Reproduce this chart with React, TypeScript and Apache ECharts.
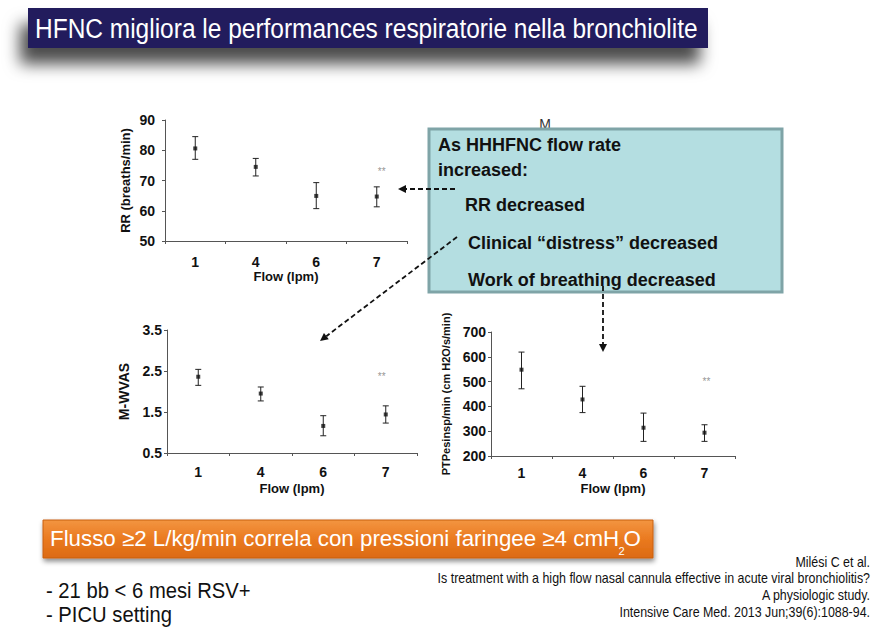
import React, { useEffect, useRef } from 'react';
import * as echarts from 'echarts';

// ---- data ----
const flowCategories = ['1', '4', '6', '7'];

const rrMean = [80.6, 74.5, 64.9, 64.7];
const rrLow = [77.0, 71.5, 60.7, 61.3];
const rrHigh = [84.5, 77.3, 69.3, 67.9];
const rrSig = ['-', '-', '-', 72.9];

const mwvasMean = [2.36, 1.95, 1.16, 1.44];
const mwvasLow = [2.15, 1.77, 0.92, 1.23];
const mwvasHigh = [2.54, 2.11, 1.41, 1.65];
const mwvasSig = ['-', '-', '-', 2.36];

const ptpMean = [548, 428, 314, 294];
const ptpLow = [471, 375, 259, 259];
const ptpHigh = [619, 481, 373, 326];
const ptpSig = ['-', '-', '-', 501];

const titleText = 'HFNC migliora le performances respiratorie nella bronchiolite';
const boxLines = ['As HHHFNC flow rate', 'increased:', 'RR decreased', 'Clinical \u201cdistress\u201d decreased', 'Work of breathing decreased'];
const orangeMain = 'Flusso \u22652 L/kg/min correla con pressioni faringee \u22654 cmH';
const bulletLines = ['- 21 bb < 6 mesi RSV+', '- PICU setting'];
const refLines = [
  'Mil\u00e9si C et al.',
  'Is treatment with a high flow nasal cannula effective in acute viral bronchiolitis?',
  'A physiologic study.',
  'Intensive Care Med. 2013 Jun;39(6):1088-94.',
];

const FONT = '"Liberation Sans", Arial, Helvetica, sans-serif';

function measure(text: string, font: string): number {
  const ctx = document.createElement('canvas').getContext('2d');
  if (!ctx) return text.length * 10;
  ctx.font = font;
  return ctx.measureText(text).width;
}

function arrow(x1: number, y1: number, x2: number, y2: number, z: number) {
  const dx = x2 - x1, dy = y2 - y1;
  const len = Math.sqrt(dx * dx + dy * dy);
  const ux = dx / len, uy = dy / len;
  const hl = 8, hw = 4;
  const bx = x2 - ux * hl, by = y2 - uy * hl;
  return [
    {
      type: 'line', z, silent: true,
      shape: { x1, y1, x2: bx, y2: by },
      style: { stroke: '#111', lineWidth: 1.8, lineDash: [5, 3] },
    },
    {
      type: 'polygon', z, silent: true,
      shape: { points: [[x2, y2], [bx - uy * hw, by + ux * hw], [bx + uy * hw, by - ux * hw]] },
      style: { fill: '#111' },
    },
  ];
}

export default function App() {
  const ref = useRef<HTMLDivElement>(null);

  useEffect(() => {
    if (!ref.current) return;
    const chart = echarts.init(ref.current, null, { renderer: 'svg' });

    const axisColor = '#555';
    const labelStyle = { color: '#111', fontWeight: 'bold' as const, fontSize: 14, fontFamily: FONT };
    const nameStyle = { color: '#111', fontWeight: 'bold' as const, fontSize: 13, fontFamily: FONT };

    const makeX = (gridIndex: number, margin: number, nameGap: number) => ({
      type: 'category', gridIndex, data: flowCategories, boundaryGap: true,
      axisLine: { lineStyle: { color: axisColor, width: 1 } },
      axisTick: { show: true, length: 3, lineStyle: { color: axisColor } },
      axisLabel: { ...labelStyle, margin },
      splitLine: { show: false },
      name: 'Flow (lpm)', nameLocation: 'middle', nameGap, nameTextStyle: nameStyle,
    });
    const makeY = (gridIndex: number, min: number, max: number, interval: number, name: string, nameGap: number, margin: number, nameSize: number) => ({
      type: 'value', gridIndex, min, max, interval,
      axisLine: { show: true, lineStyle: { color: axisColor, width: 1 } },
      axisTick: { show: true, length: 3, lineStyle: { color: axisColor } },
      axisLabel: { ...labelStyle, margin },
      splitLine: { show: false },
      name, nameLocation: 'middle', nameGap, nameRotate: 90,
      nameTextStyle: { ...nameStyle, fontSize: nameSize },
    });

    const errorSeries = (idx: number, low: number[], high: number[]) => ({
      type: 'custom', xAxisIndex: idx, yAxisIndex: idx,
      data: low.map((l, i) => [i, l, high[i]]),
      encode: { x: 0, y: [1, 2] },
      renderItem: (params: any, api: any) => {
        const i = api.value(0);
        const pLo = api.coord([i, api.value(1)]);
        const pHi = api.coord([i, api.value(2)]);
        const cap = 3;
        const st = { stroke: '#222', lineWidth: 1 };
        return {
          type: 'group',
          children: [
            { type: 'line', shape: { x1: pLo[0], y1: pLo[1], x2: pHi[0], y2: pHi[1] }, style: st },
            { type: 'line', shape: { x1: pLo[0] - cap, y1: pLo[1], x2: pLo[0] + cap, y2: pLo[1] }, style: st },
            { type: 'line', shape: { x1: pHi[0] - cap, y1: pHi[1], x2: pHi[0] + cap, y2: pHi[1] }, style: st },
          ],
        };
      },
      z: 3,
    });
    const meanSeries = (idx: number, data: number[]) => ({
      type: 'scatter', xAxisIndex: idx, yAxisIndex: idx, data,
      symbol: 'rect', symbolSize: 4, itemStyle: { color: '#111' }, z: 4,
    });
    const sigSeries = (idx: number, data: any[], dx: number) => ({
      type: 'scatter', xAxisIndex: idx, yAxisIndex: idx, data,
      symbolSize: 1, itemStyle: { color: 'rgba(0,0,0,0)' },
      label: { show: true, position: 'inside', formatter: '**', color: '#777', fontSize: 10, fontFamily: FONT, offset: [dx, 0] },
      z: 4,
    });

    // text fitting
    const titleFont = `27px ${FONT}`;
    const titleScale = 663 / measure(titleText, titleFont);
    const orFont = `22px ${FONT}`;
    const wMain = measure(orangeMain, orFont);
    const wO = measure('O', orFont);
    const orScale = 591 / (wMain + 4 + wO);
    const refFont = `14px ${FONT}`;
    const refScale = 433 / measure(refLines[1], refFont);

    const graphic: any[] = [
      // partial "M" behind the box
      { type: 'text', x: 545, y: 124, z: 1, silent: true,
        style: { text: 'M', fontSize: 14, fontFamily: FONT, fill: '#333', align: 'center', verticalAlign: 'middle' } },
      // title
      { type: 'rect', z: 10, silent: true, shape: { x: 28, y: 8, width: 680, height: 40 },
        style: { fill: '#211f5d', shadowBlur: 16, shadowOffsetX: -8, shadowOffsetY: 16, shadowColor: 'rgba(0,0,0,0.7)' } },
      { type: 'text', z: 11, silent: true, x: 35, y: 29, scaleX: titleScale, originX: 0, originY: 0,
        style: { text: titleText, fontSize: 27, fontFamily: FONT, fill: '#ffffff', align: 'left', verticalAlign: 'middle' } },
      // teal box
      { type: 'rect', z: 10, silent: true, shape: { x: 429, y: 129, width: 353, height: 163 },
        style: { fill: '#b4dee1', stroke: '#7fa4a7', lineWidth: 3 } },
      ...boxLines.map((t, i) => ({
        type: 'text', z: 11, silent: true,
        x: [438, 438, 465, 468, 468][i], y: [145, 170, 205, 243, 280][i],
        style: { text: t, fontSize: 18, fontWeight: 'bold', fontFamily: FONT, fill: '#111', align: 'left', verticalAlign: 'middle' },
      })),
      // arrows
      ...arrow(455, 189, 398, 189, 12),
      ...arrow(457, 237, 320, 341, 12),
      ...arrow(603, 286, 603, 352, 12),
      // orange box
      { type: 'rect', z: 10, silent: true, shape: { x: 43, y: 520, width: 610, height: 38 },
        style: {
          fill: new echarts.graphic.LinearGradient(0, 0, 0, 1, [
            { offset: 0, color: '#f39541' }, { offset: 0.5, color: '#ea7a20' }, { offset: 1, color: '#dc6a12' },
          ]),
          stroke: '#c8600f', lineWidth: 1,
          shadowBlur: 5, shadowOffsetX: 1, shadowOffsetY: 3, shadowColor: 'rgba(0,0,0,0.45)',
        } },
      { type: 'group', z: 11, x: 50, y: 539, scaleX: orScale, originX: 0, originY: 0, silent: true,
        children: [
          { type: 'text', z: 11, x: 0, y: 0, style: { text: orangeMain, fontSize: 22, fontFamily: FONT, fill: '#fff', align: 'left', verticalAlign: 'middle' } },
          { type: 'text', z: 11, x: wMain - 1, y: 12, style: { text: '2', fontSize: 11, fontFamily: FONT, fill: '#fff', align: 'left', verticalAlign: 'middle' } },
          { type: 'text', z: 11, x: wMain + 4, y: 0, style: { text: 'O', fontSize: 22, fontFamily: FONT, fill: '#fff', align: 'left', verticalAlign: 'middle' } },
        ] },
      // bullets
      ...bulletLines.map((t, i) => ({
        type: 'text', z: 11, silent: true, x: 46, y: [590, 614][i], scaleX: 0.92, originX: 0, originY: 0,
        style: { text: t, fontSize: 22, fontFamily: FONT, fill: '#111', align: 'left', verticalAlign: 'middle' },
      })),
      // references
      ...refLines.map((t, i) => ({
        type: 'text', z: 11, silent: true, x: 870, y: [562, 578, 595, 612][i], scaleX: refScale, originX: 0, originY: 0,
        style: { text: t, fontSize: 14, fontFamily: FONT, fill: '#111', align: 'right', verticalAlign: 'middle' },
      })),
    ];

    chart.setOption({
      animation: false,
      backgroundColor: '#ffffff',
      grid: [
        { left: 165, top: 120, width: 242, height: 121, outerBoundsMode: 'none' },
        { left: 167, top: 330, width: 250, height: 123, outerBoundsMode: 'none' },
        { left: 491, top: 332, width: 244, height: 124, outerBoundsMode: 'none' },
      ],
      xAxis: [makeX(0, 14, 29), makeX(1, 12, 29), makeX(2, 10, 26)],
      yAxis: [
        makeY(0, 50, 90, 10, 'RR (breaths/min)', 33, 10, 13),
        makeY(1, 0.5, 3.5, 1, 'M-WVAS', 36, 5, 14),
        makeY(2, 200, 700, 100, 'PTPesinsp/min (cm H2O/s/min)', 40, 5, 11),
      ],
      series: [
        errorSeries(0, rrLow, rrHigh), meanSeries(0, rrMean), sigSeries(0, rrSig, 5),
        errorSeries(1, mwvasLow, mwvasHigh), meanSeries(1, mwvasMean), sigSeries(1, mwvasSig, -4),
        errorSeries(2, ptpLow, ptpHigh), meanSeries(2, ptpMean), sigSeries(2, ptpSig, 2),
      ],
      graphic,
    });

    return () => chart.dispose();
  }, []);

  return (
    <div
      ref={ref}
      style={{ position: 'fixed', left: 0, top: 0, width: 887, height: 632, background: '#fff' }}
    />
  );
}
